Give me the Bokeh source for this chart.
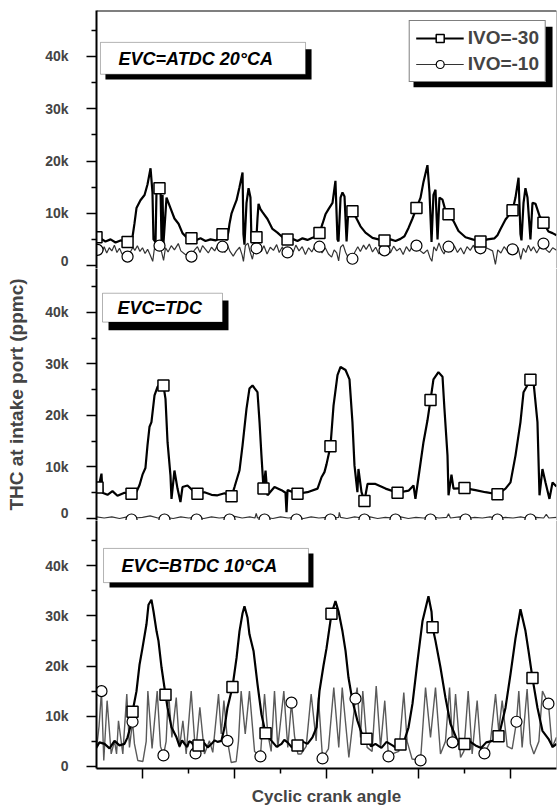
from bokeh.plotting import figure
from bokeh.layouts import column
from bokeh.models import (Range1d, FixedTicker, Span, BoxAnnotation, Label,
                          Legend, LegendItem)
from bokeh.embed import file_html
from bokeh.resources import INLINE

# ---------------- data (crank angle in degrees, THC in thousands of ppmc) -------------
X_MAJOR = [360, 1080, 1800, 2520, 3240]
X_MINOR = [720, 1440, 2160, 2880]
Y_TICKS = [0, 10, 20, 30, 40]
Y_TICK_LABELS = ["0", "10k", "20k", "30k", "40k"]
Y_MINOR = [5, 15, 25, 35, 45]
SERIES = ["IVO=-30", "IVO=-10"]
PANEL_TITLES = ["EVC=ATDC 20°CA", "EVC=TDC", "EVC=BTDC 10°CA"]

# Panel 1 : EVC = ATDC 20 CA
P1_M30 = [(0,5.6),(31,5.2),(70,4.6),(110,5.0),(149,4.4),(188,4.8),(243,4.5),(282,5.5),(297,8.0),(313,11.0),
          (344,12.5),(376,13.5),(399,15.5),(423,18.6),(438,14.0),(446,5.0),(462,4.5),(470,14.8),(485,15.2),(501,14.8),
          (509,4.5),(517,13.5),(524,4.2),(548,13.0),(579,11.0),(610,9.0),(642,8.0),(673,6.2),(704,5.4),(743,5.2),
          (783,4.9),(814,5.2),(853,4.7),(892,5.0),(931,4.8),(970,5.3),(986,6.0),(1002,7.0),(1017,4.8),(1033,6.5),
          (1041,8.0),(1057,10.0),(1080,11.5),(1096,12.5),(1119,15.0),(1143,17.8),(1150,6.0),(1158,4.0),(1174,12.0),(1190,14.8),
          (1205,13.0),(1213,4.5),(1229,5.0),(1252,5.4),(1260,9.0),(1268,11.8),(1283,10.8),(1299,10.2),(1338,8.9),(1377,7.0),
          (1416,6.3),(1456,5.4),(1495,5.0),(1534,5.1),(1573,4.7),(1612,5.2),(1651,4.9),(1690,5.3),(1714,5.5),(1745,6.2),
          (1769,8.0),(1792,9.8),(1816,10.8),(1847,12.0),(1870,16.2),(1886,5.0),(1894,4.6),(1910,13.0),(1925,14.0),(1941,13.2),
          (1957,4.6),(1972,11.0),(2003,10.4),(2035,9.0),(2066,7.5),(2105,6.3),(2160,5.3),(2207,5.0),(2254,4.8),(2301,5.0),
          (2340,4.7),(2379,5.1),(2410,5.6),(2442,7.2),(2473,9.0),(2504,11.0),(2536,13.0),(2559,16.0),(2590,19.2),(2606,14.0),
          (2622,4.5),(2637,13.5),(2653,14.5),(2669,5.0),(2684,13.0),(2708,12.6),(2731,10.5),(2755,9.8),(2794,8.5),(2833,6.6),
          (2888,5.4),(2943,5.0),(3005,4.6),(3060,5.0),(3115,5.2),(3138,5.8),(3162,7.0),(3201,8.8),(3232,9.8),(3256,10.6),
          (3279,13.0),(3303,16.8),(3318,6.0),(3326,4.8),(3342,12.0),(3357,14.8),(3373,13.0),(3396,5.0),(3412,12.0),(3436,11.8),
          (3467,9.5),(3498,8.2),(3537,6.5),(3569,6.2),(3600,5.8)]
P1_M10 = [(0,3.2),(8,3.0),(25,4.0),(45,2.6),(60,3.6),(80,2.4),(100,3.4),(120,2.8),(140,3.9),(160,2.5),
          (180,3.3),(200,2.2),(220,2.0),(243,1.7),(265,2.6),(285,3.5),(300,2.9),(320,3.8),(340,2.7),(360,3.4),
          (380,2.3),(400,3.1),(420,2.0),(440,0.8),(455,3.6),(475,3.9),(493,3.8),(510,2.5),(525,1.0),(540,3.4),
          (560,2.6),(585,3.8),(610,3.0),(640,4.2),(660,2.8),(690,2.2),(720,1.8),(743,1.7),(765,2.9),(790,3.6),
          (810,2.5),(830,3.8),(850,3.2),(875,2.4),(900,3.5),(925,2.8),(950,4.0),(970,3.2),(986,3.6),(1005,2.5),
          (1025,3.9),(1045,2.7),(1070,1.8),(1095,2.8),(1120,3.5),(1140,2.0),(1150,0.8),(1165,3.8),(1185,4.3),(1205,2.4),
          (1220,1.2),(1235,3.0),(1252,3.3),(1270,4.0),(1290,2.7),(1310,3.8),(1335,2.2),(1360,3.5),(1385,2.9),(1410,4.0),
          (1430,2.5),(1455,3.6),(1475,2.0),(1495,2.5),(1515,3.4),(1540,2.6),(1560,3.9),(1585,2.8),(1610,3.6),(1635,2.1),
          (1660,3.4),(1685,2.6),(1710,3.8),(1730,4.4),(1745,3.6),(1765,2.4),(1790,3.4),(1815,2.2),(1840,1.6),(1860,3.0),
          (1880,2.4),(1895,0.9),(1910,3.5),(1930,4.0),(1950,2.5),(1970,1.5),(1990,1.1),(2003,1.3),(2020,2.5),(2045,3.6),
          (2065,2.7),(2090,3.9),(2110,3.1),(2135,4.1),(2160,2.6),(2185,3.5),(2210,2.2),(2235,3.8),(2254,2.9),(2275,3.5),
          (2300,2.4),(2325,3.7),(2350,2.8),(2375,3.3),(2400,2.1),(2425,3.6),(2450,2.7),(2475,3.9),(2504,3.8),(2525,3.0),
          (2560,2.3),(2590,3.0),(2610,1.5),(2625,0.8),(2640,3.6),(2660,2.8),(2680,4.3),(2700,3.0),(2720,2.2),(2740,3.5),
          (2755,3.6),(2775,2.6),(2800,3.8),(2825,2.5),(2850,3.4),(2875,2.2),(2900,3.6),(2925,2.9),(2950,3.9),(2975,2.5),
          (3005,3.3),(3030,2.4),(3050,3.4),(3100,2.8),(3122,0.2),(3140,3.0),(3165,2.4),(3190,3.6),(3215,2.8),(3240,3.9),
          (3256,3.1),(3280,2.7),(3300,3.4),(3320,1.2),(3340,3.3),(3360,2.5),(3380,3.9),(3400,2.8),(3420,3.6),(3445,2.4),
          (3470,3.5),(3498,4.2),(3520,3.0),(3545,2.5),(3570,3.4),(3600,2.9)]
P1_M30_MARK = [(0,5.4),(243,4.5),(493,14.8),(743,5.2),(986,6.0),(1252,5.4),(1495,5.0),(1745,6.2),
               (2003,10.4),(2254,4.8),(2504,11.0),(2755,9.8),(3005,4.6),(3256,10.6),(3498,8.2)]
P1_M10_MARK = [(8,3.0),(243,1.7),(493,3.8),(743,1.7),(986,3.6),(1252,3.3),(1495,2.5),(1745,3.6),
               (2003,1.3),(2254,2.9),(2504,3.8),(2755,3.6),(3005,3.3),(3256,3.1),(3498,4.2)]

# Panel 2 : EVC = TDC
P2_M30 = [(0,7.0),(8,5.1),(39,8.7),(47,5.0),(86,4.6),(125,5.3),(164,4.4),(219,5.0),(274,4.8),(313,5.2),
          (337,6.5),(360,8.5),(383,9.8),(399,14.2),(415,17.8),(430,18.7),(454,23.9),(477,25.5),(501,26.2),(524,25.8),
          (540,23.2),(556,14.8),(579,8.3),(587,3.8),(610,9.3),(634,5.8),(657,3.2),(673,6.1),(712,6.4),(751,5.5),
          (790,4.8),(845,5.1),(900,4.6),(947,4.5),(1002,4.9),(1057,4.3),(1080,6.1),(1119,9.3),(1143,14.2),(1174,21.3),
          (1197,25.2),(1221,25.8),(1260,24.5),(1276,18.7),(1291,12.2),(1307,5.8),(1323,9.3),(1338,4.5),(1393,6.1),(1448,5.5),
          (1479,5.0),(1487,1.2),(1495,5.5),(1573,4.8),(1651,5.1),(1730,5.8),(1761,8.0),(1784,9.0),(1800,10.5),(1831,14.0),
          (1855,21.9),(1886,27.8),(1910,29.4),(1949,28.8),(1980,27.0),(2003,18.7),(2019,10.3),(2042,5.1),(2050,9.6),(2074,5.1),
          (2097,3.4),(2121,6.7),(2183,6.7),(2262,5.8),(2356,5.0),(2442,5.4),(2481,6.4),(2496,3.8),(2520,8.0),(2559,14.8),
          (2590,19.0),(2614,23.0),(2637,27.0),(2676,28.4),(2708,27.5),(2723,21.3),(2747,12.2),(2755,4.5),(2778,8.5),(2794,5.8),
          (2880,5.9),(2966,5.5),(3044,5.1),(3138,4.7),(3201,5.8),(3240,7.0),(3279,12.2),(3318,18.7),(3342,24.5),(3396,26.9),
          (3420,26.5),(3451,18.7),(3467,4.5),(3490,9.6),(3514,7.0),(3545,3.8),(3569,7.0),(3600,6.2)]
P2_M10 = [(0,0.3),(60,0.1),(120,0.3),(180,0.0),(240,0.3),(300,0.1),(360,0.2),(420,0.5),(480,0.1),(540,0.2),
          (600,0.0),(660,0.3),(720,0.1),(780,0.2),(840,0.0),(900,0.3),(960,0.1),(1020,0.2),(1080,0.4),(1140,0.1),
          (1200,0.3),(1240,0.1),(1250,1.0),(1260,0.1),(1320,0.2),(1380,0.0),(1440,0.3),(1500,0.1),(1560,0.2),(1620,0.0),
          (1680,0.3),(1740,0.1),(1800,0.2),(1860,0.1),(1895,0.2),(1900,1.2),(1910,0.2),(1960,0.0),(2020,0.3),(2080,0.1),
          (2140,0.3),(2200,0.0),(2260,0.2),(2320,0.1),(2380,0.3),(2440,0.0),(2500,0.2),(2560,0.1),(2620,0.3),(2680,0.1),
          (2740,0.2),(2755,0.9),(2770,0.1),(2840,0.3),(2900,0.0),(2960,0.2),(3020,0.1),(3080,0.3),(3140,0.0),(3200,0.2),
          (3260,0.1),(3320,0.3),(3380,0.0),(3440,0.2),(3500,0.1),(3520,0.8),(3540,0.1),(3600,0.2)]
P2_M30_MARK = [(8,6.0),(274,4.8),(524,25.8),(790,4.8),(1057,4.3),(1307,5.8),(1573,4.8),(1831,14.0),
               (2097,3.4),(2356,5.0),(2614,23.0),(2880,5.9),(3138,4.7),(3396,26.9)]
P2_M10_MARK = [(274,-0.2),(532,-0.2),(783,-0.2),(1041,-0.2),(1315,-0.2),(1565,-0.2),(1831,-0.2),
               (2097,-0.2),(2340,-0.2),(2614,-0.2),(2888,-0.2),(3138,-0.2),(3396,-0.2)]

# Panel 3 : EVC = BTDC 10 CA
P3_M30 = [(0,3.8),(23,4.8),(63,4.5),(102,3.6),(141,5.1),(180,4.2),(219,4.5),(243,5.8),(266,8.0),(282,10.9),
          (313,15.0),(337,20.3),(360,23.6),(391,28.3),(407,32.2),(430,33.2),(446,30.9),(470,26.9),(485,25.0),(509,19.7),
          (540,14.3),(556,11.7),(587,7.8),(626,5.8),(650,4.0),(670,5.2),(689,4.5),(710,3.9),(725,5.0),(743,4.8),
          (770,3.9),(798,4.2),(820,5.0),(845,4.6),(870,3.8),(900,4.5),(925,5.2),(947,4.9),(978,5.1),(1002,7.8),
          (1025,11.7),(1064,15.8),(1096,21.6),(1119,26.9),(1143,30.5),(1158,31.9),(1182,29.6),(1197,26.3),(1229,23.0),(1260,16.4),
          (1291,10.4),(1323,6.6),(1370,5.1),(1410,3.9),(1448,4.5),(1470,5.3),(1495,4.8),(1530,3.8),(1573,4.2),(1610,5.0),
          (1651,4.5),(1690,5.8),(1722,7.8),(1745,15.0),(1776,20.0),(1800,23.5),(1839,30.4),(1870,32.9),(1894,30.9),(1925,26.9),
          (1949,23.0),(1972,17.7),(2003,13.1),(2042,9.1),(2082,6.1),(2113,5.5),(2150,4.0),(2183,4.5),(2230,3.7),(2270,4.9),
          (2316,4.2),(2350,3.6),(2379,4.4),(2410,5.2),(2442,7.8),(2473,12.5),(2512,20.9),(2551,28.9),(2598,33.9),(2622,30.8),
          (2630,27.7),(2653,25.0),(2692,19.7),(2731,13.7),(2770,8.5),(2825,5.1),(2855,3.8),(2880,4.5),(2920,5.0),(2966,4.2),
          (3010,3.7),(3050,4.8),(3099,5.1),(3146,5.8),(3201,11.7),(3240,18.4),(3279,25.5),(3318,31.3),(3357,27.0),(3381,23.0),
          (3412,17.6),(3451,11.7),(3490,7.1),(3537,5.5),(3570,3.9),(3600,4.5)]
P3_M10 = [(0,3.5),(20,8.0),(39,15.0),(57,1.2),(83,13.1),(115,2.5),(141,5.1),(157,2.5),(172,9.1),(206,2.5),
          (237,14.4),(258,3.8),(282,8.9),(297,4.5),(323,1.2),(363,1.0),(389,5.0),(402,15.0),(435,3.6),(475,15.0),
          (501,4.0),(524,2.2),(545,5.0),(563,15.0),(590,5.8),(624,13.7),(650,3.8),(676,9.1),(702,2.5),(741,15.0),
          (775,2.6),(809,11.8),(845,2.5),(884,5.1),(910,2.8),(955,14.4),(976,6.5),(997,13.1),(1025,5.1),(1054,0.8),
          (1093,1.0),(1111,5.0),(1132,15.0),(1164,6.5),(1197,15.0),(1237,3.0),(1283,2.0),(1315,14.4),(1341,6.5),(1367,3.0),
          (1393,15.0),(1419,3.8),(1466,15.0),(1497,3.8),(1526,12.7),(1550,6.0),(1576,2.5),(1602,2.5),(1641,4.0),(1680,14.4),
          (1719,5.1),(1737,13.7),(1769,1.6),(1815,3.5),(1857,15.7),(1896,3.8),(1923,15.7),(1975,1.8),(2027,13.5),(2040,15.7),
          (2066,5.8),(2084,15.0),(2118,3.8),(2157,3.0),(2189,16.0),(2223,3.8),(2256,13.1),(2285,2.0),(2314,2.5),(2366,3.0),
          (2405,14.7),(2431,5.0),(2470,1.5),(2536,1.2),(2575,15.7),(2614,5.8),(2653,15.7),(2692,2.5),(2731,5.0),(2763,15.7),
          (2786,4.8),(2810,14.4),(2849,1.8),(2875,3.0),(2909,15.0),(2940,2.5),(2979,13.1),(3005,4.0),(3036,2.6),(3083,5.0),
          (3123,14.4),(3148,7.1),(3175,13.1),(3214,4.0),(3253,3.5),(3287,8.9),(3305,15.0),(3331,3.8),(3370,15.4),(3396,4.5),
          (3423,2.5),(3462,5.0),(3490,15.0),(3537,12.5),(3566,3.8),(3600,5.8)]
P3_M30_MARK = [(282,10.9),(540,14.3),(798,4.2),(1064,15.8),(1323,6.6),(1573,4.2),(1839,30.4),
               (2113,5.5),(2379,4.4),(2630,27.7),(2880,4.5),(3146,6.0),(3412,17.6)]
P3_M10_MARK = [(39,15.0),(282,8.9),(524,2.2),(775,2.6),(1025,5.1),(1283,2.0),(1526,12.7),(1769,1.6),
               (2027,13.5),(2285,2.0),(2536,1.2),(2786,4.8),(3036,2.6),(3287,8.9),(3537,12.5)]

# ---------------- helpers ----------------
FONT = "Liberation Sans"


def xs(pairs):
    return [a for a, _ in pairs]


def ys(pairs):
    return [b for _, b in pairs]


def make_panel(height, y0, y1, top, bottom):
    p = figure(width=557, height=height, x_range=Range1d(0, 3600), y_range=Range1d(y0, y1),
               output_backend="svg", toolbar_location=None, min_border=0)
    p.min_border_left = 96
    p.min_border_right = 1
    p.min_border_top = top
    p.min_border_bottom = bottom
    p.outline_line_color = None
    p.grid.visible = False
    ax = p.yaxis[0]
    ax.ticker = FixedTicker(ticks=Y_TICKS, minor_ticks=Y_MINOR)
    ax.major_label_overrides = dict(zip(Y_TICKS, Y_TICK_LABELS))
    ax.axis_line_width = 2
    ax.major_tick_line_width = 1.5
    ax.minor_tick_line_width = 1.5
    ax.major_tick_out = 10
    ax.major_tick_in = 0
    ax.minor_tick_out = 5
    ax.minor_tick_in = 0
    ax.major_label_text_font = FONT
    ax.major_label_text_font_style = "bold"
    ax.major_label_text_font_size = "14px"
    ax.major_label_standoff = 18
    p.add_layout(Span(location=3600, dimension="height", line_color="#777777", line_width=1))
    return p


def draw(p, m30, m10, mk30, mk10, c10="#333333", w10=1.2):
    r10 = p.line(xs(m10), ys(m10), line_color=c10, line_width=w10)
    r30 = p.line(xs(m30), ys(m30), line_color="black", line_width=2.2)
    rc = p.scatter(xs(mk10), ys(mk10), marker="circle", size=11, fill_color="white",
                   line_color="black", line_width=1.2)
    rs = p.scatter(xs(mk30), ys(mk30), marker="square", size=11, fill_color="white",
                   line_color="black", line_width=1.5)
    return r30, rs, r10, rc


def title_box(p, text, sx0, sx1, sy0, sy1, bx0, bx1, by0, by1, tx, ty):
    p.add_layout(BoxAnnotation(left=sx0, right=sx1, bottom=sy0, top=sy1,
                               fill_color="black", fill_alpha=1, line_color=None))
    p.add_layout(BoxAnnotation(left=bx0, right=bx1, bottom=by0, top=by1,
                               fill_color="white", fill_alpha=1, line_color="black", line_width=1))
    p.add_layout(Label(x=tx, y=ty, text=text, text_font=FONT, text_font_style="bold italic",
                       text_font_size="18px", text_baseline="middle", text_align="left",
                       text_color="black"))


# ---------------- panels ----------------
p1 = make_panel(268, -0.57, 48.8, 10, 0)
p1.xaxis.visible = False
p1.add_layout(Span(location=48.8, dimension="width", line_color="black", line_width=2))
r30, rs, r10, rc = draw(p1, P1_M30, P1_M10, P1_M30_MARK, P1_M10_MARK)
title_box(p1, PANEL_TITLES[0], 70, 1683, 35.6, 41.4, 31, 1636, 36.6, 42.7, 172, 39.6)
p1.add_layout(BoxAnnotation(left=2481, right=3569, bottom=34.1, top=45.7,
                            fill_color="black", fill_alpha=1, line_color=None))
legend = Legend(items=[LegendItem(label=SERIES[0], renderers=[r30, rs]),
                       LegendItem(label=SERIES[1], renderers=[r10, rc])],
                location="top_right", margin=10, padding=6, spacing=4,
                glyph_width=48, glyph_height=20, label_standoff=4, label_height=20,
                label_text_font=FONT, label_text_font_style="bold", label_text_font_size="19px",
                border_line_color="black", border_line_width=1,
                background_fill_color="white", background_fill_alpha=1)
p1.add_layout(legend)

p2 = make_panel(252, -0.39, 48.5, 0, 0)
p2.xaxis.visible = False
draw(p2, P2_M30, P2_M10, P2_M30_MARK, P2_M10_MARK)
title_box(p2, PANEL_TITLES[1], 94, 1033, 36.5, 42.3, 47, 986, 38.1, 43.7, 164, 40.8)
p2.yaxis.axis_label = "THC at intake port (ppmc)"
p2.yaxis.axis_label_text_font = FONT
p2.yaxis.axis_label_text_font_style = "bold"
p2.yaxis.axis_label_text_font_size = "19px"
p2.yaxis.axis_label_standoff = 15

p3 = make_panel(288, -0.4, 48.96, 0, 40)
draw(p3, P3_M30, P3_M10, P3_M30_MARK, P3_M10_MARK, c10="#5a5a5a", w10=1.4)
title_box(p3, PANEL_TITLES[2], 102, 1698, 35.6, 42.4, 55, 1659, 36.6, 43.4, 196, 40.0)
xa = p3.xaxis[0]
xa.ticker = FixedTicker(ticks=X_MAJOR, minor_ticks=X_MINOR)
xa.major_label_text_font_size = "0px"
xa.major_label_text_color = None
xa.major_label_standoff = 0
xa.axis_line_width = 2
xa.major_tick_line_width = 1.5
xa.minor_tick_line_width = 1.5
xa.major_tick_out = 10
xa.major_tick_in = 0
xa.minor_tick_out = 5
xa.minor_tick_in = 0
xa.axis_label = "Cyclic crank angle"
xa.axis_label_text_font = FONT
xa.axis_label_text_font_style = "bold"
xa.axis_label_text_font_size = "17px"
xa.axis_label_standoff = 8

layout = column(p1, p2, p3, spacing=0)
open("out.html", "w").write(file_html(layout, INLINE))
